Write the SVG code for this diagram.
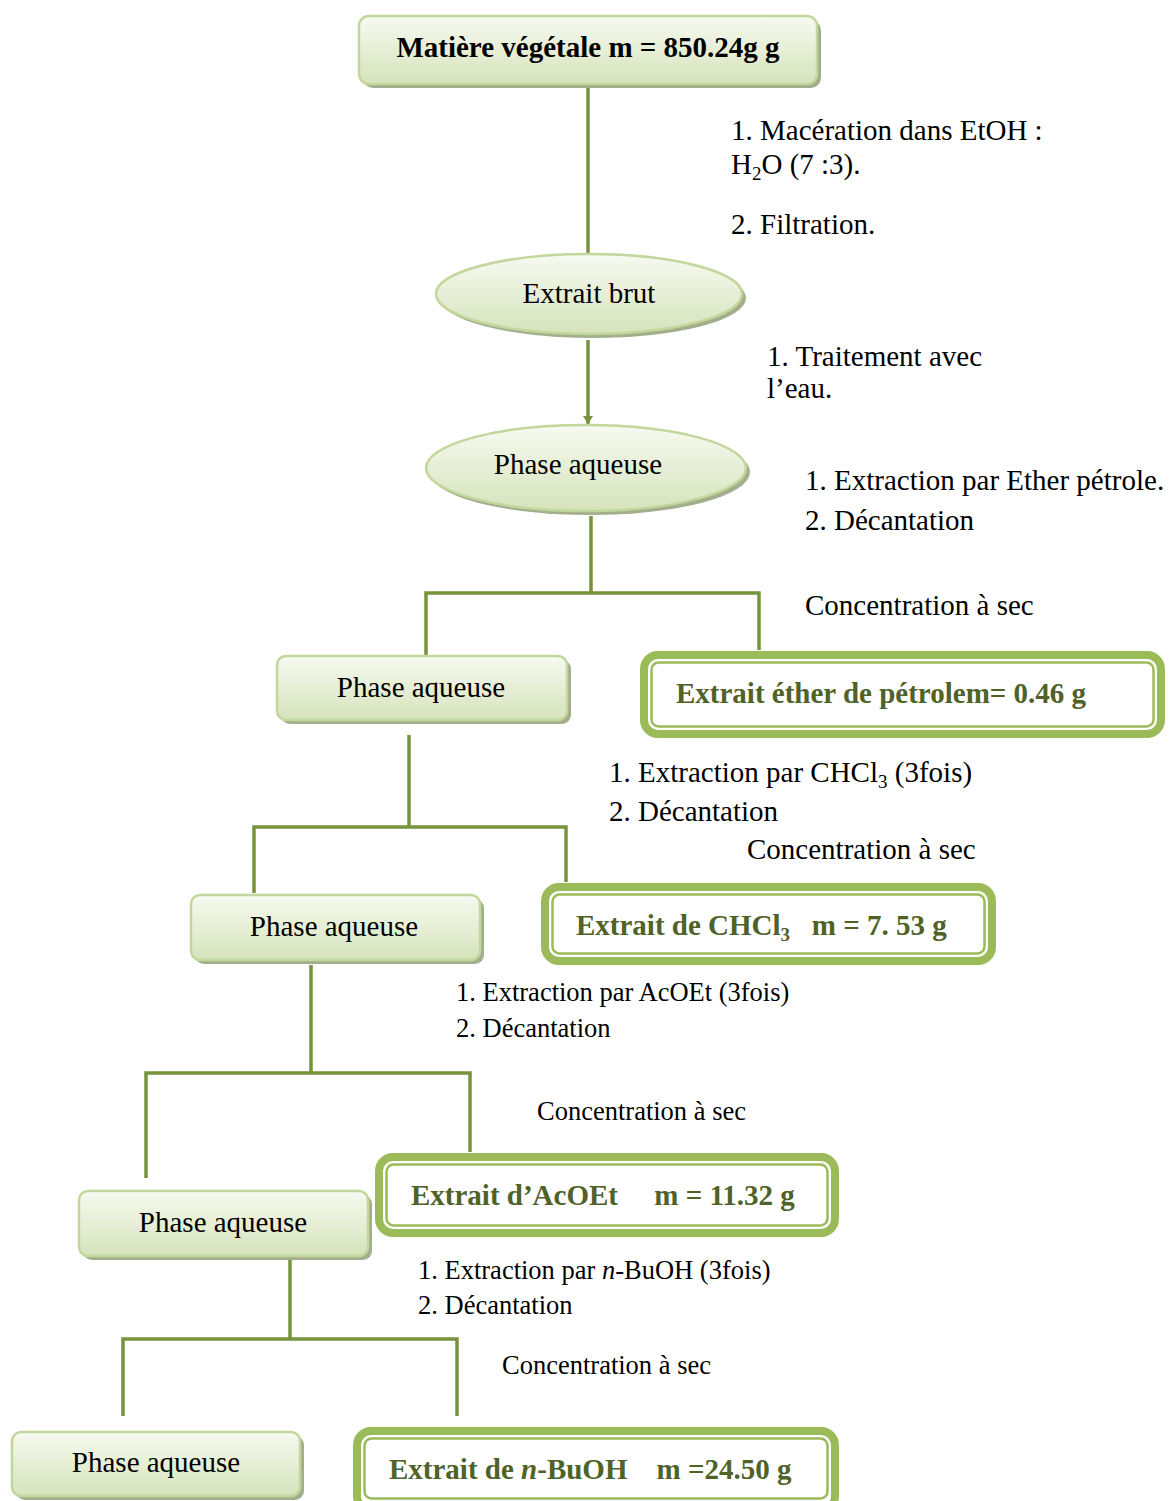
<svg xmlns="http://www.w3.org/2000/svg" width="1170" height="1501" viewBox="0 0 1170 1501">
<style>
  .t { font-family: "Liberation Serif", "Times New Roman", serif; font-size: 29px; fill: #000; }
  .ts { font-family: "Liberation Serif", "Times New Roman", serif; font-size: 26.5px; fill: #000; }
  .nb { font-family: "Liberation Serif", "Times New Roman", serif; font-size: 29px; font-weight: bold; fill: #000; }
  .gb { font-family: "Liberation Serif", "Times New Roman", serif; font-size: 29px; font-weight: bold; fill: #4f6228; }
  .node { fill: url(#ng); stroke: #c3d69b; stroke-width: 2.5; }
  .shadow { fill: #a3ae8c; }
  .outer { fill: #fff; stroke: #9bbb59; stroke-width: 8; }
  .inner { fill: none; stroke: #9bbb59; stroke-width: 2.5; }
  .c { fill: none; stroke: #77933c; stroke-width: 3.5; }
</style>
<defs>
  <linearGradient id="ng" x1="0" y1="0" x2="0" y2="1">
    <stop offset="0" stop-color="#f7faf1"/>
    <stop offset="1" stop-color="#d6e3bb"/>
  </linearGradient>
  <marker id="arr" viewBox="0 0 8 10" refX="8" refY="5" markerWidth="8" markerHeight="10" orient="auto" markerUnits="userSpaceOnUse">
    <path d="M0,0 L8,5 L0,10 Z" fill="#77933c"/>
  </marker>
</defs>

<g id="connectors">
  <path class="c" d="M588,87 V253"/>
  <path class="c" d="M588,340 V424" marker-end="url(#arr)"/>
  <path class="c" d="M591,516 V593 M426,655 V593 H759 V650"/>
  <path class="c" d="M409,735 V827 M254,893 V827 H566 V882"/>
  <path class="c" d="M311,965 V1073 M146,1178 V1073 H470 V1152"/>
  <path class="c" d="M290,1260 V1339 M123,1416 V1339 H457 V1416"/>
</g>

<g id="n-matiere">
  <rect class="shadow" x="363" y="20" width="458" height="68" rx="10"/>
  <rect class="node" x="359" y="16" width="458" height="68" rx="10"/>
  <text class="nb" x="588" y="57" text-anchor="middle">Matière végétale m = 850.24g g</text>
</g>

<g id="n-extrait-brut">
  <ellipse class="shadow" cx="593" cy="298" rx="153" ry="40"/>
  <ellipse class="node" cx="589" cy="294" rx="153" ry="40"/>
  <text class="t" x="589" y="303" text-anchor="middle">Extrait brut</text>
</g>

<g id="n-phase-ellipse">
  <ellipse class="shadow" cx="590" cy="472" rx="160" ry="43"/>
  <ellipse class="node" cx="586" cy="468" rx="160" ry="43"/>
  <text class="t" x="578" y="474" text-anchor="middle">Phase aqueuse</text>
</g>

<g id="n-pa1">
  <rect class="shadow" x="281" y="660" width="290" height="64" rx="9"/>
  <rect class="node" x="277" y="656" width="290" height="64" rx="9"/>
  <text class="t" x="421" y="697" text-anchor="middle">Phase aqueuse</text>
</g>

<g id="n-ether">
  <rect class="outer" x="644" y="655" width="517" height="79" rx="14"/>
  <rect class="inner" x="651.5" y="662.5" width="502" height="64" rx="7"/>
  <text class="gb" x="676" y="703">Extrait éther de pétrolem= 0.46 g</text>
</g>

<g id="n-pa2">
  <rect class="shadow" x="195" y="899" width="289" height="65" rx="9"/>
  <rect class="node" x="191" y="895" width="289" height="65" rx="9"/>
  <text class="t" x="334" y="936" text-anchor="middle">Phase aqueuse</text>
</g>

<g id="n-chcl3">
  <rect class="outer" x="545" y="887" width="447" height="74" rx="14"/>
  <rect class="inner" x="552.5" y="894.5" width="432" height="59" rx="7"/>
  <text class="gb" x="576" y="935">Extrait de CHCl<tspan font-size="19" dy="6">3</tspan><tspan dy="-6" xml:space="preserve">   m = 7. 53 g</tspan></text>
</g>

<g id="n-pa3">
  <rect class="shadow" x="83" y="1195" width="289" height="65" rx="9"/>
  <rect class="node" x="79" y="1191" width="289" height="65" rx="9"/>
  <text class="t" x="223" y="1232" text-anchor="middle">Phase aqueuse</text>
</g>

<g id="n-acoet">
  <rect class="outer" x="379" y="1157" width="456" height="76" rx="14"/>
  <rect class="inner" x="386.5" y="1164.5" width="441" height="61" rx="7"/>
  <text class="gb" x="411" y="1205" xml:space="preserve">Extrait d’AcOEt     m = 11.32 g</text>
</g>

<g id="n-pa4">
  <rect class="shadow" x="16" y="1436" width="288" height="64" rx="9"/>
  <rect class="node" x="12" y="1432" width="288" height="64" rx="9"/>
  <text class="t" x="156" y="1472" text-anchor="middle">Phase aqueuse</text>
</g>

<g id="n-buoh">
  <rect class="outer" x="357" y="1431" width="478" height="79" rx="14"/>
  <rect class="inner" x="364.5" y="1438.5" width="463" height="60" rx="7"/>
  <text class="gb" x="389" y="1479" xml:space="preserve">Extrait de <tspan font-style="italic">n</tspan>-BuOH    m =24.50 g</text>
</g>

<g id="labels">
  <text class="t" x="731" y="140">1. Macération dans EtOH :</text>
  <text class="t" x="731" y="174">H<tspan font-size="19" dy="6">2</tspan><tspan dy="-6">O (7 :3).</tspan></text>
  <text class="t" x="731" y="234">2. Filtration.</text>
  <text class="t" x="767" y="366">1. Traitement avec</text>
  <text class="t" x="767" y="398">l’eau.</text>
  <text class="t" x="805" y="490">1. Extraction par Ether pétrole.</text>
  <text class="t" x="805" y="530">2. Décantation</text>
  <text class="t" x="805" y="615">Concentration à sec</text>
  <text class="t" x="609" y="782">1. Extraction par CHCl<tspan font-size="19" dy="6">3</tspan><tspan dy="-6"> (3fois)</tspan></text>
  <text class="t" x="609" y="821">2. Décantation</text>
  <text class="t" x="747" y="859">Concentration à sec</text>
  <text class="ts" x="456" y="1001">1. Extraction par AcOEt (3fois)</text>
  <text class="ts" x="456" y="1037">2. Décantation</text>
  <text class="ts" x="537" y="1120">Concentration à sec</text>
  <text class="ts" x="418" y="1279">1. Extraction par <tspan font-style="italic">n</tspan>-BuOH (3fois)</text>
  <text class="ts" x="418" y="1314">2. Décantation</text>
  <text class="ts" x="502" y="1374">Concentration à sec</text>
</g>
</svg>
